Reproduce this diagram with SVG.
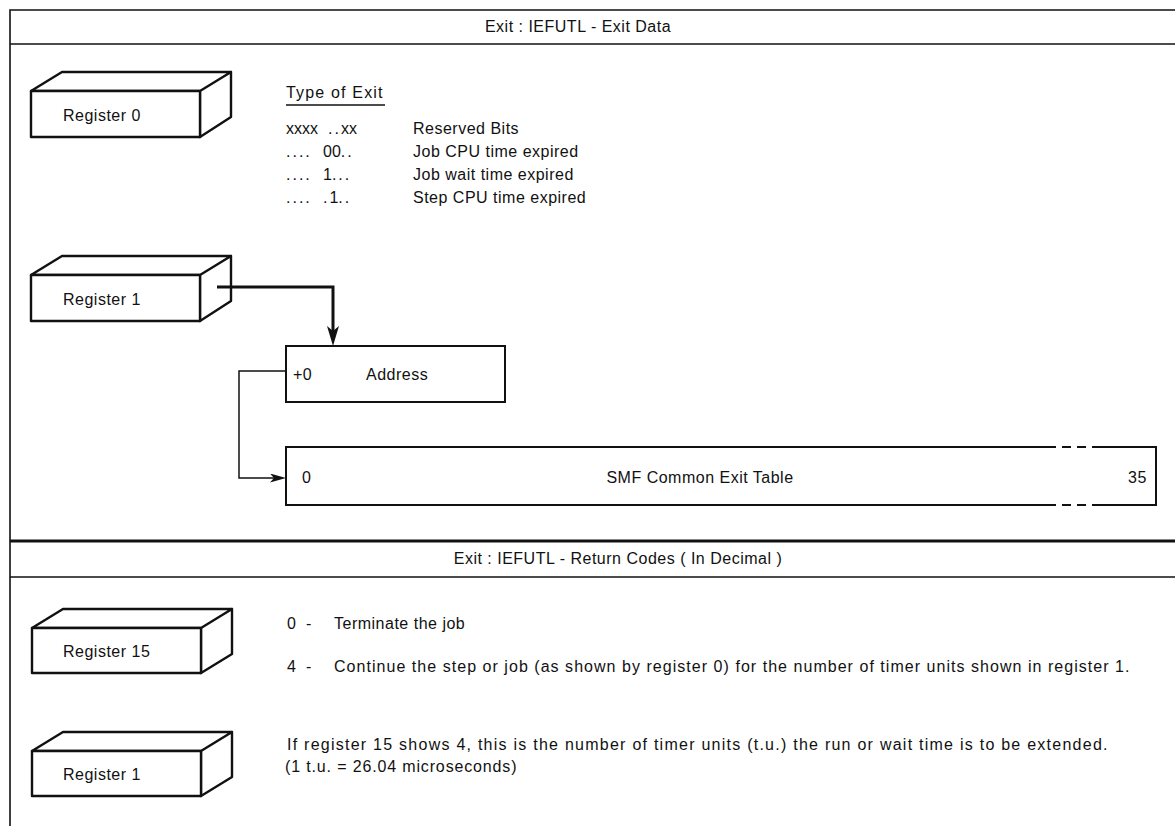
<svg xmlns="http://www.w3.org/2000/svg" width="1175" height="826" viewBox="0 0 1175 826">
<style>
text{font-family:"Liberation Sans",Arial,sans-serif;font-size:16px;fill:#111;letter-spacing:0.5px}
.frame{stroke:#111;stroke-width:1.6;fill:none}
.cube{stroke:#111;stroke-width:2.4;fill:#fff;stroke-linejoin:round}
.box{stroke:#111;stroke-width:2;fill:#fff}
.code{font-size:16px;letter-spacing:0}
.dots{letter-spacing:2px}
</style>
<defs>
<marker id="ahThick" markerUnits="userSpaceOnUse" viewBox="0 0 20 12" refX="8" refY="6" markerWidth="20" markerHeight="12" orient="auto">
<path d="M0,0 L20,6 L0,12 L5,6 Z" fill="#111"/>
</marker>
<marker id="ahThin" markerUnits="userSpaceOnUse" viewBox="0 0 16 9" refX="8" refY="4.5" markerWidth="16" markerHeight="9" orient="auto">
<path d="M0,0 L16,4.5 L0,9 L4,4.5 Z" fill="#111"/>
</marker>
</defs>
<rect width="1175" height="826" fill="#fff"/>

<g id="frame">
<path class="frame" d="M10,826 V10 H1175"/>
<path class="frame" d="M10,44 H1175"/>
<path d="M10,541 H1175" stroke="#111" stroke-width="3"/>
<path class="frame" d="M10,577 H1175"/>
<text x="578" y="32" text-anchor="middle">Exit : IEFUTL - Exit Data</text>
<text x="618" y="564" text-anchor="middle">Exit : IEFUTL - Return Codes ( In Decimal )</text>
</g>

<g id="register0">
<path class="cube" d="M31,91 L62,72 H231 L200,91 Z M200,91 L231,72 V117 L200,137 Z"/>
<rect class="cube" x="31" y="91" width="169" height="46"/>
<text x="63" y="121">Register 0</text>
</g>

<g id="type-of-exit">
<text x="286" y="98" textLength="97" lengthAdjust="spacing">Type of Exit</text>
<path d="M286,105 H385" stroke="#111" stroke-width="1.4"/>
<text class="code" x="286" y="134">xxxx</text><text class="code" x="328" y="134"><tspan class="dots">..</tspan>xx</text><text x="413" y="134">Reserved Bits</text>
<text class="code dots" x="286" y="157">....</text><text class="code" x="323" y="157">00<tspan class="dots">..</tspan></text><text x="413" y="157">Job CPU time expired</text>
<text class="code dots" x="286" y="180">....</text><text class="code" x="323" y="180">1<tspan class="dots">...</tspan></text><text x="413" y="180">Job wait time expired</text>
<text class="code dots" x="286" y="203">....</text><text class="code" x="323" y="203"><tspan class="dots">.</tspan>1<tspan class="dots">..</tspan></text><text x="413" y="203">Step CPU time expired</text>
</g>

<g id="register1-top">
<path class="cube" d="M31,275 L62,256 H231 L200,275 Z M200,275 L231,256 V301 L200,321 Z"/>
<rect class="cube" x="31" y="275" width="169" height="46"/>
<text x="63" y="305">Register 1</text>
</g>

<g id="address">
<rect class="box" x="286" y="346" width="219" height="56"/>
<text x="293" y="380">+0</text>
<text x="366" y="380">Address</text>
</g>

<g id="smf-table">
<path class="box" fill="none" d="M1047,447 H286 V505 H1047 M1098,447 H1156 V505 H1098"/>
<path d="M1047,447 H1098 M1047,505 H1098" stroke="#111" stroke-width="2" stroke-dasharray="9,6" fill="none"/>
<text x="302" y="483">0</text>
<text x="700" y="483" text-anchor="middle">SMF Common Exit Table</text>
<text x="1128" y="483">35</text>
</g>

<g id="connectors">
<path d="M217,287 H333 V334" fill="none" stroke="#111" stroke-width="3" marker-end="url(#ahThick)"/>
<path d="M286,371 H239 V478 H278" fill="none" stroke="#111" stroke-width="1.5" marker-end="url(#ahThin)"/>
</g>

<g id="register15">
<path class="cube" d="M32,628 L63,609 H232 L201,628 Z M201,628 L232,609 V654 L201,673 Z"/>
<rect class="cube" x="32" y="628" width="169" height="45"/>
<text x="63" y="657">Register 15</text>
</g>

<g id="register1-bottom">
<path class="cube" d="M32,751 L63,732 H232 L201,751 Z M201,751 L232,732 V777 L201,796 Z"/>
<rect class="cube" x="32" y="751" width="169" height="45"/>
<text x="63" y="780">Register 1</text>
</g>

<g id="return-codes">
<text y="629"><tspan x="287">0</tspan><tspan x="306">-</tspan><tspan x="334">Terminate the job</tspan></text>
<text y="672"><tspan x="287">4</tspan><tspan x="306">-</tspan></text>
<text x="334" y="672" textLength="796" lengthAdjust="spacing">Continue the step or job (as shown by register 0) for the number of timer units shown in register 1.</text>
<text x="287" y="750" textLength="821" lengthAdjust="spacing">If register 15 shows 4, this is the number of timer units (t.u.) the run or wait time is to be extended.</text>
<text x="285" y="772" textLength="232" lengthAdjust="spacing">(1 t.u. = 26.04 microseconds)</text>
</g>
</svg>
